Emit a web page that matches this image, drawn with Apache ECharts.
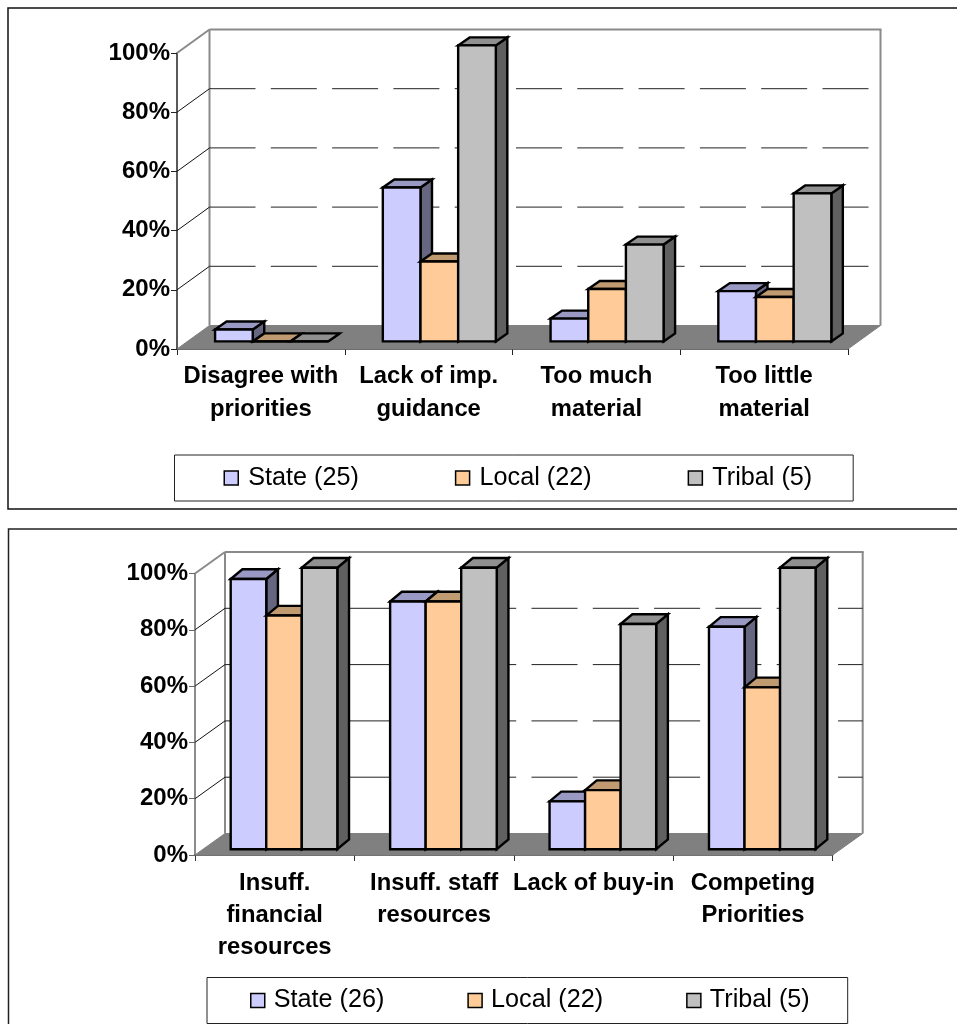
<!DOCTYPE html>
<html>
<head>
<meta charset="utf-8">
<style>html,body{margin:0;padding:0;background:#fff}#c{width:957px;height:1024px}</style>
<script src="https://cdn.jsdelivr.net/npm/echarts@6/dist/echarts.min.js"></script>
</head>
<body>
<div id="c"></div>
<script>
// ---- data ----
const categoriesTop = ['Disagree with\npriorities', 'Lack of imp.\nguidance', 'Too much\nmaterial', 'Too little\nmaterial'];
const stateTop = [4, 52, 7.7, 17];
const localTop = [0, 27, 17.7, 15];
const tribalTop = [0, 100, 32.7, 50];
const namesTop = ['State (25)', 'Local (22)', 'Tribal (5)'];

const categoriesBottom = ['Insuff.\nfinancial\nresources', 'Insuff. staff\nresources', 'Lack of buy-in', 'Competing\nPriorities'];
const stateBottom = [96, 88, 17, 79];
const localBottom = [83, 88, 21, 57.5];
const tribalBottom = [100, 100, 80, 100];
const namesBottom = ['State (26)', 'Local (22)', 'Tribal (5)'];

const yTicks = [0, 20, 40, 60, 80, 100];

// ---- styles ----
const FONT = '"Liberation Sans", Arial, sans-serif';
const palette = [
  { front: '#CCCCFF', top: '#9999C4', side: '#666680' },
  { front: '#FFCC99', top: '#C09A70', side: '#806650' },
  { front: '#C0C0C0', top: '#909090', side: '#606060' }
];
const geomTop = { wallDx: 32.5, wallDy: 23.5, barDx: 10.7, barDy: 7.6, depthDx: 11.5, depthDy: 8, groupFrac: 113 / 167.75 };
const geomBottom = { wallDx: 30, wallDy: 21.5, barDx: 9.3, barDy: 5.8, depthDx: 11.7, depthDy: 9.7, groupFrac: 106.6 / 159.4 };

function wallSeries(idx, geom) {
  return {
    type: 'custom', xAxisIndex: idx, yAxisIndex: idx, silent: true, animation: false, clip: false, z: 1,
    data: yTicks.map(v => [0, v]),
    encode: { x: 0, y: 1 },
    renderItem(params, api) {
      const c = params.coordSys, v = api.value(1);
      const y = api.coord([0, v])[1];
      const x0 = c.x, x1 = c.x + c.width, dx = geom.wallDx, dy = geom.wallDy;
      const kids = [];
      const line = (a, b, cc, w, dash) => ({
        type: 'line', shape: { x1: a[0], y1: a[1], x2: b[0], y2: b[1] },
        style: { stroke: cc, lineWidth: w, lineDash: dash || null, fill: null }
      });
      if (v === 0) {
        const yTop = api.coord([0, 100])[1];
        kids.push({ type: 'polygon', shape: { points: [[x0, y], [x1, y], [x1 + dx, y - dy], [x0 + dx, y - dy]] }, style: { fill: '#808080', stroke: '#808080', lineWidth: 1 } });
        kids.push(line([x0 + dx, yTop - dy], [x0 + dx, y - dy], '#8a8a8a', 2));
        kids.push(line([x1 + dx, yTop - dy], [x1 + dx, y - dy], '#8a8a8a', 2));
      } else if (v === 100) {
        kids.push(line([x0, y], [x0 + dx, y - dy], '#8a8a8a', 2));
        kids.push(line([x0 + dx, y - dy], [x1 + dx + 1, y - dy], '#8a8a8a', 2));
      } else {
        kids.push(line([x0, y], [x0 + dx, y - dy], '#111', 1));
        kids.push(line([x0 + dx, y - dy], [x1 + dx, y - dy], '#222', 1, [46, 15.3]));
      }
      return { type: 'group', children: kids };
    }
  };
}

function barSeries(idx, name, values, s, geom) {
  const col = palette[s];
  return {
    type: 'custom', name, xAxisIndex: idx, yAxisIndex: idx, silent: true, animation: false, clip: false, z: 3 + s,
    itemStyle: { color: col.front },
    data: values.map((v, i) => [i, v]),
    encode: { x: 0, y: 1 },
    renderItem(params, api) {
      const i = api.value(0), v = api.value(1);
      const cat = api.coord([i, 0]);
      const topPt = api.coord([i, v]);
      const catW = api.size([1, 0])[0];
      const groupW = catW * geom.groupFrac, w = groupW / 3;
      const xl = cat[0] + geom.barDx - groupW / 2 + s * w, xr = xl + w;
      const yb = cat[1] - geom.barDy, yt = topPt[1] - geom.barDy;
      const dx = geom.depthDx, dy = geom.depthDy;
      const sty = f => ({ fill: f, stroke: '#000', lineWidth: 2.4, lineJoin: 'miter' });
      return {
        type: 'group', children: [
          { type: 'polygon', shape: { points: [[xr, yb], [xr + dx, yb - dy], [xr + dx, yt - dy], [xr, yt]] }, style: sty(col.side) },
          { type: 'polygon', shape: { points: [[xl, yt], [xl + dx, yt - dy], [xr + dx, yt - dy], [xr, yt]] }, style: sty(col.top) },
          { type: 'polygon', shape: { points: [[xl, yb], [xr, yb], [xr, yt], [xl, yt]] }, style: sty(col.front) }
        ]
      };
    }
  };
}

const xAxisOf = (idx, cats, lh, margin, axisColor) => ({
  type: 'category', gridIndex: idx, data: cats,
  axisLine: { show: true, onZero: false, lineStyle: { color: axisColor, width: 1.5 } },
  axisTick: { show: true, length: 6, alignWithLabel: false, lineStyle: { color: axisColor, width: 1 } },
  axisLabel: { interval: 0, color: '#000', fontFamily: FONT, fontWeight: 'bold', fontSize: 23.8, lineHeight: lh, margin, hideOverlap: false }
});
const yAxisOf = (idx, axisColor) => ({
  type: 'value', gridIndex: idx, min: 0, max: 100, interval: 20,
  splitLine: { show: false },
  axisLine: { show: true, lineStyle: { color: axisColor, width: 1.5 } },
  axisTick: { show: true, length: 6, lineStyle: { color: axisColor, width: 1 } },
  axisLabel: { color: '#000', fontFamily: FONT, fontWeight: 'bold', fontSize: 24, margin: 7, formatter: '{value}%' }
});
const legendOf = (names, left, top, padding, itemGap, textPad) => ({
  data: names, left, top, orient: 'horizontal', padding, itemGap,
  itemWidth: 14, itemHeight: 14, icon: 'rect', selectedMode: false,
  backgroundColor: '#fff', borderColor: '#222', borderWidth: 1,
  itemStyle: { borderColor: '#000', borderWidth: 1.5 },
  textStyle: { color: '#000', fontFamily: FONT, fontSize: 25.2, padding: [0, 0, 0, textPad] }
});

const chart = echarts.init(document.getElementById('c'), null, { renderer: 'canvas' });
chart.setOption({
  backgroundColor: '#fff',
  animation: false,
  grid: [
    { left: 177, top: 53, width: 671, height: 296 },
    { left: 195, top: 573.5, width: 637.7, height: 281.5 }
  ],
  xAxis: [xAxisOf(0, categoriesTop, 33, 11, '#222'), xAxisOf(1, categoriesBottom, 32, 12, '#333')],
  yAxis: [yAxisOf(0, '#222'), yAxisOf(1, '#666')],
  legend: [
    legendOf(namesTop, 174.5, 455, [10.5, 41, 10.5, 49], 96, 5),
    legendOf(namesBottom, 207, 977.5, [10.5, 38, 10.5, 43], 83, 4)
  ],
  graphic: [
    { type: 'rect', shape: { x: 8, y: 8, width: 1000, height: 501 }, style: { fill: null, stroke: '#111', lineWidth: 1.5 }, silent: true, z: 0 },
    { type: 'rect', shape: { x: 8.5, y: 529, width: 1000, height: 600 }, style: { fill: null, stroke: '#222', lineWidth: 1.5 }, silent: true, z: 0 }
  ],
  series: [
    wallSeries(0, geomTop),
    barSeries(0, namesTop[0], stateTop, 0, geomTop),
    barSeries(0, namesTop[1], localTop, 1, geomTop),
    barSeries(0, namesTop[2], tribalTop, 2, geomTop),
    wallSeries(1, geomBottom),
    barSeries(1, namesBottom[0], stateBottom, 0, geomBottom),
    barSeries(1, namesBottom[1], localBottom, 1, geomBottom),
    barSeries(1, namesBottom[2], tribalBottom, 2, geomBottom)
  ]
});
</script>
</body>
</html>
